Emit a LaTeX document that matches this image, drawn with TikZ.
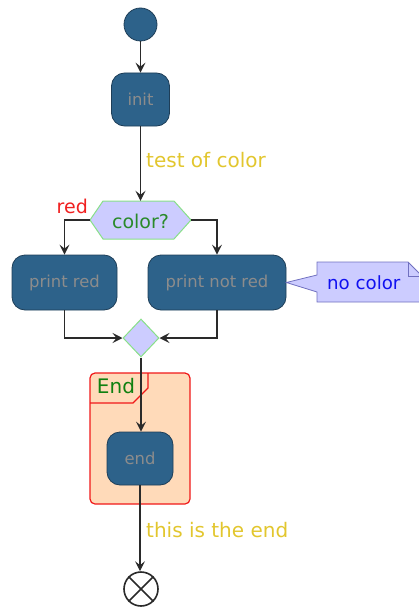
\documentclass[tikz,border=0pt]{standalone}
\usepackage{fontspec}
\setmainfont{DejaVu Sans}
\usetikzlibrary{arrows.meta,shapes.geometric}
\definecolor{actfill}{HTML}{2D628A}
\definecolor{actborder}{HTML}{1E3E58}
\definecolor{acttext}{HTML}{8C8C8C}
\definecolor{decfill}{HTML}{CCCCFF}
\definecolor{decborder}{HTML}{88E088}
\definecolor{dectext}{HTML}{2A8A2A}
\definecolor{lbltext}{HTML}{E2C62E}
\definecolor{redtext}{HTML}{F02020}
\definecolor{grpfill}{HTML}{FFDAB9}
\definecolor{grpborder}{HTML}{F01818}
\definecolor{grptext}{HTML}{108010}
\definecolor{notefill}{HTML}{CCCCFF}
\definecolor{noteborder}{HTML}{7070C0}
\definecolor{notetext}{HTML}{1010F0}
\definecolor{linecol}{HTML}{2A2A2A}
\tikzset{
  act/.style={draw=actborder, line width=0.8pt, fill=actfill, rounded corners=13pt,
    text=acttext, font=\fontsize{16.4}{18}\selectfont, inner sep=0pt},
  flow/.style={draw=linecol, line width=1.1pt,
    -{Stealth[length=10pt,width=10pt,inset=4pt]}},
  plainflow/.style={draw=linecol, line width=1.1pt},
  lbl/.style={text=lbltext, font=\fontsize{20}{22}\selectfont, inner sep=0pt},
}
\begin{document}
\begin{tikzpicture}[x=1pt,y=-1pt]
\useasboundingbox (0,0) rectangle (419,607);
\clip (0,0) rectangle (419,607);

% group
\draw[draw=grpborder, fill=grpfill, line width=1.2pt, rounded corners=5pt]
  (90,373) rectangle (190,504);
\draw[draw=grpborder, line width=1.2pt] (90,403) -- (133,403) -- (148,388) -- (148,373);
\node[text=grptext, font=\fontsize{20}{22}\selectfont, inner sep=0pt] (grplbl) at (116,386.5) {End};

% start
\node[circle, draw=actborder, line width=0.8pt, fill=actfill, minimum size=33pt, inner sep=0pt] (start) at (140.5,24.5) {};

% init
\node[act, minimum width=58pt, minimum height=53pt] (init) at (140.5,99.5) {init};

% decision hexagon
\node[inner sep=0pt, minimum width=101pt, minimum height=38pt] (dec) at (140.5,220) {};
\draw[draw=decborder, fill=decfill, line width=1pt]
  (90,220) -- (103,201) -- (174,201) -- (191,220) -- (174,239) -- (103,239) -- cycle;
\node[text=dectext, font=\fontsize{19}{21}\selectfont, inner sep=0pt] (dectxt) at (140.5,221) {color?};

% branches
\node[act, minimum width=105pt, minimum height=55pt] (pr) at (64.5,282.5) {print red};
\node[act, minimum width=138pt, minimum height=55pt] (pnr) at (217,282.5) {print not red};

% merge
\node[diamond, draw=decborder, fill=decfill, line width=1pt, minimum width=36pt, minimum height=38pt, inner sep=0pt] (merge) at (141,338) {};

% end activity
\node[act, minimum width=66pt, minimum height=53pt] (endact) at (140,458.5) {end};

% stop
\node[circle, draw=linecol, line width=1.6pt, fill=white, minimum size=34pt, inner sep=0pt] (stop) at (141,589) {};
\draw[linecol, line width=1.6pt] (stop.north west) -- (stop.south east);
\draw[linecol, line width=1.6pt] (stop.north east) -- (stop.south west);

% note
\draw[draw=noteborder, fill=notefill, line width=0.8pt]
  (pnr.east) -- (317,275) -- (317,262) -- (408,262) -- (422,276) -- (422,302) -- (317,302) -- (317,292) -- cycle;
\draw[draw=noteborder, line width=0.8pt] (408,262) -- (408,276) -- (422,276);
\node[text=notetext, font=\fontsize{18.2}{20}\selectfont, inner sep=0pt, anchor=west] (notetxt) at (327,283) {no color};

% connectors
\draw[flow] (start) -- (init);
\draw[flow] (init) -- (dec.north);
\node[lbl, anchor=west] (l1) at (146,160) {test of color};
\draw[flow] (dec.west) -| (pr.north);
\draw[flow] (dec.east) -| (pnr.north);
\node[text=redtext, font=\fontsize{19}{21}\selectfont, inner sep=0pt, anchor=east] (l2) at (88,206) {red};
\draw[flow] (pr.south) |- (merge.west);
\draw[flow] (pnr.south) |- (merge.east);
\draw[flow] (merge.south) -- (merge.south |- endact.north);
\draw[flow] (endact.south) -- (endact.south |- stop.north);
\node[lbl, anchor=west] (l3) at (146,530) {this is the end};
\end{tikzpicture}
\end{document}
